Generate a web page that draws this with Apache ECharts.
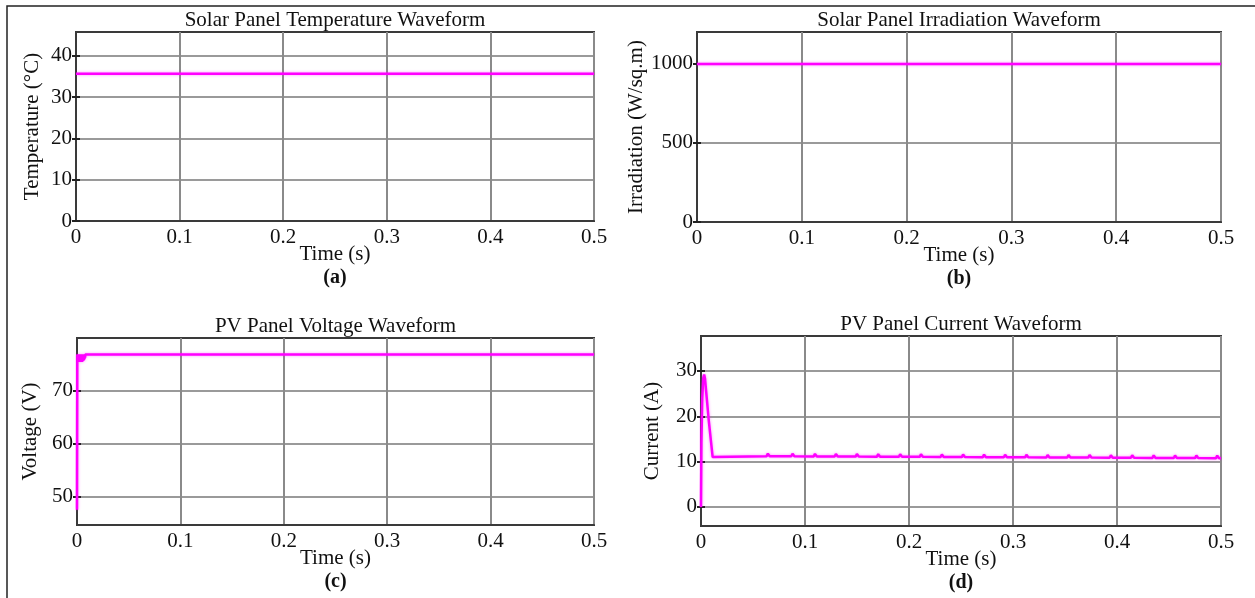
<!DOCTYPE html>
<html>
<head>
<meta charset="utf-8">
<script src="https://cdn.jsdelivr.net/npm/echarts@6/dist/echarts.min.js"></script>
<style>
  html, body { margin: 0; padding: 0; background: #ffffff; }
  #chart { width: 1255px; height: 598px; }
</style>
</head>
<body>
<div id="chart"></div>
<script>
// ---- tick values ----
const timeTicks = [0, 0.1, 0.2, 0.3, 0.4, 0.5];
const temperatureTicks = [0, 10, 20, 30, 40];
const irradiationTicks = [0, 500, 1000];
const voltageTicks = [50, 60, 70];
const currentTicks = [0, 10, 20, 30];

// ---- waveforms: [time (s), value] ----
const temperatureC = [[0, 35.7], [0.5, 35.7]];
const irradiationWm2 = [[0, 1000], [0.5, 1000]];

const pvVoltage = [
  [0, 47.6], [0.0003, 76.9], [0.0006, 75.5], [0.0009, 76.9], [0.0012, 75.5],
  [0.0015, 76.9], [0.0018, 75.5], [0.0021, 76.9], [0.0024, 75.5], [0.0027, 76.9],
  [0.003, 75.5], [0.0033, 76.9], [0.0036, 75.5], [0.0039, 76.9], [0.0042, 75.5],
  [0.0045, 76.9], [0.0048, 75.5], [0.0051, 76.9], [0.0054, 75.6], [0.0057, 76.9],
  [0.006, 75.7], [0.0063, 76.9], [0.0066, 75.8], [0.0069, 76.9], [0.0072, 76.0],
  [0.0075, 76.9], [0.0078, 76.3], [0.0081, 76.9], [0.5, 76.9]
];

const pvCurrent = [
  [0, 0], [0.0004, 14], [0.0012, 24], [0.0022, 28.5], [0.003, 29.2], [0.0038, 28.4],
  [0.0075, 19], [0.0112, 11.0], [0.013, 11.25],
  [0.0631, 11.20], [0.0643, 11.75], [0.0661, 11.20],
  [0.0868, 11.17], [0.088, 11.72], [0.0898, 11.17],
  [0.1084, 11.15], [0.1096, 11.70], [0.1114, 11.15],
  [0.1285, 11.13], [0.1297, 11.68], [0.1315, 11.13],
  [0.1487, 11.11], [0.1499, 11.66], [0.1517, 11.11],
  [0.1692, 11.09], [0.1704, 11.64], [0.1722, 11.09],
  [0.1903, 11.07], [0.1915, 11.62], [0.1933, 11.07],
  [0.2103, 11.05], [0.2115, 11.60], [0.2133, 11.05],
  [0.2304, 11.03], [0.2316, 11.58], [0.2334, 11.03],
  [0.2508, 11.00], [0.252, 11.55], [0.2538, 11.00],
  [0.271, 10.98], [0.2722, 11.53], [0.274, 10.98],
  [0.2912, 10.96], [0.2924, 11.51], [0.2942, 10.96],
  [0.3117, 10.94], [0.3129, 11.49], [0.3147, 10.94],
  [0.3321, 10.92], [0.3333, 11.47], [0.3351, 10.92],
  [0.3522, 10.90], [0.3534, 11.45], [0.3552, 10.90],
  [0.3724, 10.88], [0.3736, 11.43], [0.3754, 10.88],
  [0.3929, 10.86], [0.3941, 11.41], [0.3959, 10.86],
  [0.4134, 10.84], [0.4146, 11.39], [0.4164, 10.84],
  [0.4341, 10.82], [0.4353, 11.37], [0.4371, 10.82],
  [0.4546, 10.80], [0.4558, 11.35], [0.4576, 10.80],
  [0.4751, 10.78], [0.4763, 11.33], [0.4781, 10.78],
  [0.4952, 10.76], [0.4964, 11.31], [0.4982, 10.76],
  [0.5, 10.75]
];

// ---- panel text ----
const panelTitles = [
  'Solar Panel Temperature Waveform',
  'Solar Panel Irradiation Waveform',
  'PV Panel Voltage Waveform',
  'PV Panel Current Waveform'
];
const panelLetters = ['(a)', '(b)', '(c)', '(d)'];
const yNames = ['Temperature (\u00B0C)', 'Irradiation (W/sq.m)', 'Voltage (V)', 'Current (A)'];
const xName = 'Time (s)';

const FONT = '"Liberation Serif", "Times New Roman", serif';
const FRAME = '#3a3a3a';
const TRACE = '#ff00ff';

// plot boxes and y ranges for the four panels
const panels = [
  { box: { left: 76, top: 32, width: 518, height: 189 }, yMin: 0, yMax: 45.8, ticks: temperatureTicks, data: temperatureC, nameGap: 33 },
  { box: { left: 697, top: 32, width: 524, height: 190 }, yMin: 0, yMax: 1202, ticks: irradiationTicks, data: irradiationWm2, nameGap: 50 },
  { box: { left: 77, top: 338, width: 517, height: 187 }, yMin: 44.7, yMax: 80, ticks: voltageTicks, data: pvVoltage, nameGap: 36 },
  { box: { left: 701, top: 336, width: 520, height: 190 }, yMin: -4.2, yMax: 37.7, ticks: currentTicks, data: pvCurrent, nameGap: 38 }
];

const grids = [], xAxes = [], yAxes = [], series = [], graphics = [];

panels.forEach((p, i) => {
  grids.push(Object.assign({
    show: true,
    borderColor: FRAME,
    borderWidth: 2,
    backgroundColor: '#ffffff',
    containLabel: false,
    outerBoundsMode: 'none'
  }, p.box));

  xAxes.push({
    gridIndex: i,
    type: 'value',
    min: timeTicks[0],
    max: timeTicks[timeTicks.length - 1],
    interval: 0.1,
    name: xName,
    nameLocation: 'middle',
    nameMoveOverlap: false,
    nameGap: 23,
    nameTextStyle: { fontFamily: FONT, fontSize: 21, color: '#111' },
    axisLine: { show: true, onZero: false, lineStyle: { color: FRAME, width: 2 } },
    axisTick: { show: false },
    axisLabel: {
      margin: 6,
      fontFamily: FONT, fontSize: 21, color: '#111',
      formatter: v => String(+v.toFixed(1))
    },
    splitLine: { show: true, lineStyle: { color: '#8a8a8a', width: 2 } }
  });

  // left axis with labels and grid
  yAxes.push({
    gridIndex: i,
    type: 'value',
    position: 'left',
    min: p.yMin,
    max: p.yMax,
    name: yNames[i],
    nameLocation: 'middle',
    nameRotate: 90,
    nameMoveOverlap: false,
    nameGap: p.nameGap,
    nameTextStyle: { fontFamily: FONT, fontSize: 21, color: '#111' },
    axisLine: { show: true, onZero: false, lineStyle: { color: FRAME, width: 2 } },
    axisTick: { show: true, inside: true, length: 4, customValues: p.ticks, lineStyle: { color: '#222', width: 2 } },
    axisLabel: {
      customValues: p.ticks, margin: 4, fontFamily: FONT, fontSize: 21, color: '#111',
      formatter: v => String(v)
    },
    splitLine: { show: true, lineStyle: { color: '#9a9a9a', width: 2 } }
  });

  // right side tick marks of the boxed axes
  yAxes.push({
    gridIndex: i,
    type: 'value',
    position: 'right',
    min: p.yMin,
    max: p.yMax,
    axisLine: { show: false },
    axisTick: { show: true, inside: true, length: 4, customValues: p.ticks, lineStyle: { color: '#222', width: 2 } },
    axisLabel: { show: false },
    splitLine: { show: false }
  });

  series.push({
    type: 'line',
    xAxisIndex: i,
    yAxisIndex: 2 * i,
    data: p.data,
    showSymbol: false,
    symbol: 'none',
    clip: true,
    z: 5,
    lineStyle: { color: TRACE, width: 2.5, shadowColor: 'rgba(255,0,255,0.45)', shadowBlur: 3 }
  });

  const cx = p.box.left + p.box.width / 2;
  graphics.push({
    type: 'text',
    x: cx, y: p.box.top - 12,
    style: { text: panelTitles[i], font: '21px ' + FONT, fill: '#111', align: 'center', verticalAlign: 'middle' }
  });
  graphics.push({
    type: 'text',
    x: cx, y: p.box.top + p.box.height + 57,
    style: { text: panelLetters[i], font: 'bold 20px ' + FONT, fill: '#111', align: 'center', verticalAlign: 'middle' }
  });
});

// outer frame of the figure
graphics.unshift({
  type: 'rect',
  shape: { x: 7, y: 6, width: 1270, height: 620 },
  style: { fill: 'none', stroke: '#222', lineWidth: 1.5 },
  silent: true
});

const chart = echarts.init(document.getElementById('chart'), null, { renderer: 'canvas' });
chart.setOption({
  backgroundColor: '#ffffff',
  animation: false,
  grid: grids,
  xAxis: xAxes,
  yAxis: yAxes,
  series: series,
  graphic: graphics
});
</script>
</body>
</html>
